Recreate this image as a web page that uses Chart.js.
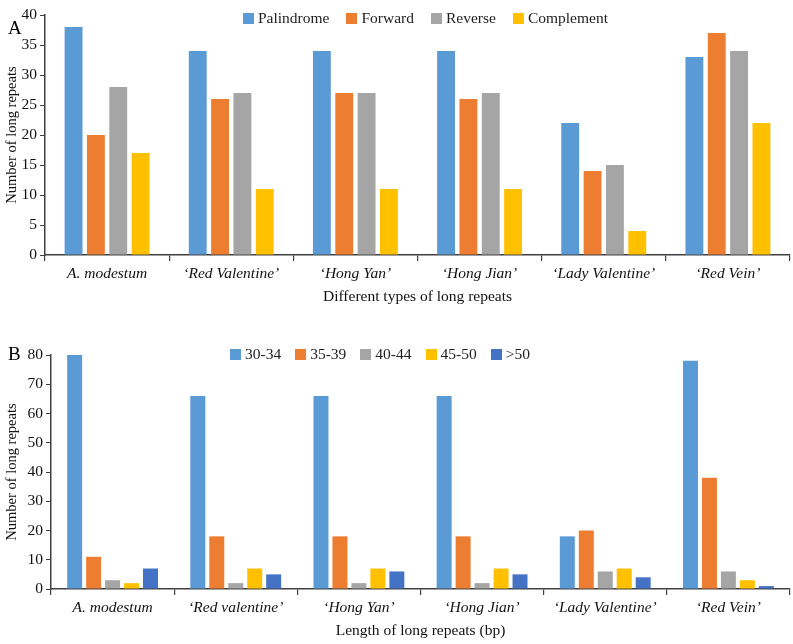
<!DOCTYPE html>
<html>
<head>
<meta charset="utf-8">
<script src="https://cdn.jsdelivr.net/npm/chart.js@4.4.1/dist/chart.umd.min.js"></script>
<style>
  body { margin: 0; background: #fff; width: 793px; height: 644px; position: relative; overflow: hidden; font-family: "Liberation Serif", serif; }
  canvas { position: absolute; left: 0; }
  .letter { position: absolute; left: 8px; font-size: 19px; color: #000; }
  .legend { position: absolute; display: flex; font-size: 15.5px; color: #222; white-space: nowrap; }
  .legend span { display: inline-flex; align-items: center; }
  .legend i { display: inline-block; width: 11px; height: 11px; margin-right: 4px; }
</style>
</head>
<body>
<canvas id="chartA" width="793" height="310" style="top:0"></canvas>
<canvas id="chartB" width="793" height="314" style="top:330px"></canvas>
<div class="letter" style="top:17px">A</div>
<div class="letter" style="top:343px">B</div>
<div class="legend" id="legendA" style="top:9px;left:243px;gap:17px"></div>
<div class="legend" id="legendB" style="top:345px;left:230px;gap:14px"></div>
<script>
const categoriesA = ["A. modestum", "\u2018Red Valentine\u2019", "\u2018Hong Yan\u2019", "\u2018Hong Jian\u2019", "\u2018Lady Valentine\u2019", "\u2018Red Vein\u2019"];
const seriesNamesA = ["Palindrome", "Forward", "Reverse", "Complement"];
const palindrome = [38, 34, 34, 34, 22, 33];
const forward = [20, 26, 27, 26, 14, 37];
const reverse = [28, 27, 27, 27, 15, 34];
const complement = [17, 11, 11, 11, 4, 22];

const categoriesB = ["A. modestum", "\u2018Red valentine\u2019", "\u2018Hong Yan\u2019", "\u2018Hong Jian\u2019", "\u2018Lady Valentine\u2019", "\u2018Red Vein\u2019"];
const seriesNamesB = ["30-34", "35-39", "40-44", "45-50", ">50"];
const len30to34 = [80, 66, 66, 66, 18, 78];
const len35to39 = [11, 18, 18, 18, 20, 38];
const len40to44 = [3, 2, 2, 2, 6, 6];
const len45to50 = [2, 7, 7, 7, 7, 3];
const lenOver50 = [7, 5, 6, 5, 4, 1];

const colors = ["#5B9BD5", "#ED7D31", "#A5A5A5", "#FFC000", "#4472C4"];
const axisColor = "#404040";
const font = "'Liberation Serif', serif";

function buildLegend(el, names) {
  el.innerHTML = names.map((n, i) =>
    `<span><i style="background:${colors[i]}"></i>${n.replace(">", "&gt;")}</span>`).join("");
}

function buildOptions(cfg) {
  return {
    responsive: false,
    animation: false,
    layout: { padding: { top: cfg.top, right: 3, left: 0, bottom: 0 } },
    plugins: { legend: { display: false }, tooltip: { enabled: false } },
    scales: {
      x: {
        afterFit(scale) { scale.height = cfg.xHeight; },
        grid: { offset: true, drawOnChartArea: false, drawTicks: true, tickLength: 6, color: axisColor, lineWidth: 1.2 },
        border: { color: axisColor, width: 1.5 },
        ticks: { color: "#111", padding: 4, font: { family: font, size: 15.5, style: "italic" }, maxRotation: 0, autoSkip: false },
        title: { display: true, text: cfg.xTitle, color: "#111", padding: { top: 2, bottom: 4 }, font: { family: font, size: 15.5 } },
      },
      y: {
        min: 0,
        max: cfg.max,
        afterFit(scale) { scale.width = cfg.yWidth; },
        ticks: { stepSize: cfg.step, color: "#111", padding: 3, font: { family: font, size: 15.5 } },
        grid: { drawOnChartArea: false, drawTicks: true, tickLength: 5, color: axisColor },
        border: { color: axisColor, width: 1.5 },
        title: { display: true, text: "Number of long repeats", color: "#111", padding: { top: 3, bottom: 2 }, font: { family: font, size: 14.5 } },
      },
    },
  };
}

function makeDatasets(names, values, catPct, barPct) {
  return names.map((name, i) => ({
    label: name,
    data: values[i],
    backgroundColor: colors[i],
    borderWidth: 0,
    categoryPercentage: catPct,
    barPercentage: barPct,
  }));
}

new Chart(document.getElementById("chartA"), {
  type: "bar",
  data: {
    labels: categoriesA,
    datasets: makeDatasets(seriesNamesA, [palindrome, forward, reverse, complement], 0.72, 0.8),
  },
  options: buildOptions({ top: 15, xHeight: 55, yWidth: 45, max: 40, step: 5, xTitle: "Different types of long repeats" }),
});

new Chart(document.getElementById("chartB"), {
  type: "bar",
  data: {
    labels: categoriesB,
    datasets: makeDatasets(seriesNamesB, [len30to34, len35to39, len40to44, len45to50, lenOver50], 0.77, 0.79),
  },
  options: buildOptions({ top: 25, xHeight: 55, yWidth: 51, max: 80, step: 10, xTitle: "Length of long repeats (bp)" }),
});

buildLegend(document.getElementById("legendA"), seriesNamesA);
buildLegend(document.getElementById("legendB"), seriesNamesB);
</script>
</body>
</html>
